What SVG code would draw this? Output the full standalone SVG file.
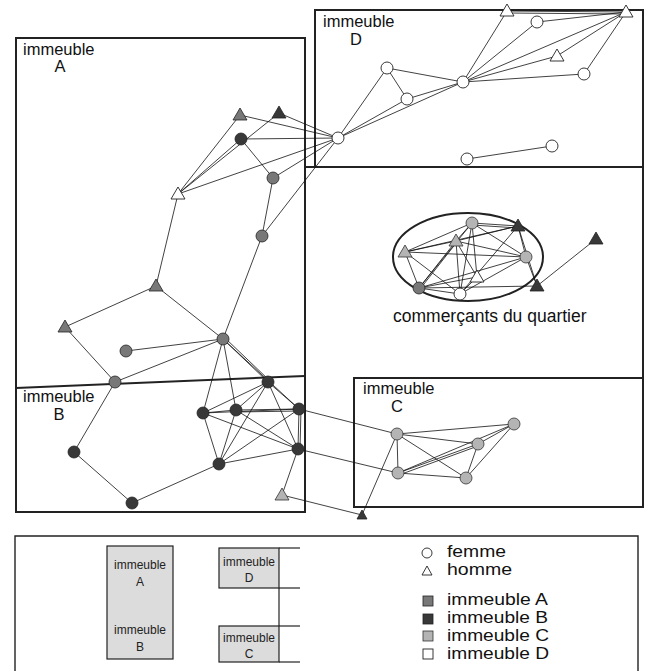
<svg xmlns="http://www.w3.org/2000/svg" xmlns:xlink="http://www.w3.org/1999/xlink" width="649" height="671" viewBox="0 0 649 671">
<style>
  .frame{fill:none;stroke:#222;stroke-width:2}
  .lframe{fill:none;stroke:#222;stroke-width:1.4}
  .edges line{stroke:#111;stroke-width:0.8}
  .lbl{font-family:"Liberation Sans",Arial,sans-serif;font-size:16.5px;fill:#111}
  .com{font-family:"Liberation Sans",Arial,sans-serif;font-size:17.5px;fill:#111}
  .leg{font-family:"Liberation Sans",Arial,sans-serif;font-size:16px;fill:#111}
  .small{font-family:"Liberation Sans",Arial,sans-serif;font-size:12px;fill:#222;text-anchor:middle}
  .mid{text-anchor:middle}
  .A{fill:#787878;stroke:#222;stroke-width:0.8}
  .B{fill:#383838;stroke:#222;stroke-width:0.8}
  .C{fill:#b4b4b4;stroke:#333;stroke-width:0.8}
  .D{fill:#fff;stroke:#222;stroke-width:0.9}
  .lgrect{fill:#dcdcdc;stroke:#222;stroke-width:1.2}
</style>
<defs>
  <path id="tri" d="M0,-7 L7,5 L-7,5 Z"/>
  <path id="stri" d="M0,-5 L5,4 L-5,4 Z"/>
</defs>

<g id="frames">
  <rect class="frame" x="16" y="38" width="289" height="474"/>
  <line class="frame" x1="16" y1="388" x2="305" y2="376"/>
  <rect class="frame" x="315" y="10" width="328" height="157"/>
  <line class="frame" x1="643" y1="167" x2="643" y2="378"/>
  <line class="frame" x1="305" y1="167" x2="315" y2="167"/>
  <rect class="frame" x="354" y="378" width="289" height="129"/>
  <ellipse class="frame" cx="468" cy="257" rx="75" ry="44"/>
</g>

<g id="labels">
  <text class="lbl" x="23" y="55">immeuble</text>
  <text class="lbl mid" x="60" y="72">A</text>
  <text class="lbl" x="23" y="402">immeuble</text>
  <text class="lbl mid" x="59" y="420">B</text>
  <text class="lbl" x="323" y="27">immeuble</text>
  <text class="lbl mid" x="356" y="45">D</text>
  <text class="lbl" x="363" y="394">immeuble</text>
  <text class="lbl mid" x="397" y="412">C</text>
  <text class="com" x="393" y="322">commerçants du quartier</text>
</g>

<g id="connectors" class="edges">
  <line x1="240" y1="115" x2="338" y2="138"/>
  <line x1="279" y1="113" x2="338" y2="138"/>
  <line x1="241" y1="139" x2="338" y2="138"/>
  <line x1="273" y1="178" x2="338" y2="138"/>
  <line x1="262" y1="236" x2="338" y2="138"/>
  <line x1="178" y1="194" x2="338" y2="138"/>
  <line x1="178" y1="194" x2="240" y2="115"/>
  <line x1="178" y1="194" x2="279" y2="113"/>
  <line x1="178" y1="194" x2="241" y2="139"/>
  <line x1="241" y1="139" x2="273" y2="178"/>
  <line x1="273" y1="178" x2="262" y2="236"/>
  <line x1="262" y1="236" x2="223" y2="339"/>
  <line x1="178" y1="194" x2="156" y2="286"/>
  <line x1="156" y1="286" x2="65" y2="327"/>
  <line x1="156" y1="286" x2="223" y2="339"/>
  <line x1="65" y1="327" x2="115" y2="382"/>
  <line x1="126" y1="351" x2="223" y2="339"/>
  <line x1="115" y1="382" x2="223" y2="339"/>
  <line x1="115" y1="382" x2="74" y2="452"/>
  <line x1="74" y1="452" x2="132" y2="503"/>
  <line x1="132" y1="503" x2="219" y2="464"/>
  <line x1="223" y1="339" x2="203" y2="413"/>
  <line x1="223" y1="339" x2="236" y2="410"/>
  <line x1="223" y1="339" x2="268" y2="382"/>
  <line x1="225" y1="338" x2="270" y2="381"/>
  <line x1="223" y1="339" x2="299" y2="409"/>
  <line x1="203" y1="413" x2="236" y2="410"/>
  <line x1="203" y1="413" x2="268" y2="382"/>
  <line x1="203" y1="413" x2="299" y2="409"/>
  <line x1="203" y1="413" x2="298" y2="449"/>
  <line x1="203" y1="413" x2="219" y2="464"/>
  <line x1="236" y1="410" x2="268" y2="382"/>
  <line x1="236" y1="410" x2="299" y2="409"/>
  <line x1="236" y1="412" x2="299" y2="411"/>
  <line x1="236" y1="410" x2="298" y2="449"/>
  <line x1="236" y1="410" x2="219" y2="464"/>
  <line x1="268" y1="382" x2="299" y2="409"/>
  <line x1="268" y1="382" x2="298" y2="449"/>
  <line x1="268" y1="382" x2="219" y2="464"/>
  <line x1="299" y1="409" x2="298" y2="449"/>
  <line x1="301" y1="409" x2="300" y2="449"/>
  <line x1="299" y1="409" x2="219" y2="464"/>
  <line x1="298" y1="449" x2="219" y2="464"/>
  <line x1="299" y1="409" x2="397" y2="434"/>
  <line x1="298" y1="449" x2="398" y2="473"/>
  <line x1="298" y1="449" x2="282" y2="495"/>
  <line x1="282" y1="495" x2="362" y2="515"/>
  <line x1="362" y1="515" x2="397" y2="434"/>
  <line x1="397" y1="434" x2="514" y2="424"/>
  <line x1="397" y1="434" x2="478" y2="444"/>
  <line x1="397" y1="434" x2="398" y2="473"/>
  <line x1="397" y1="434" x2="466" y2="478"/>
  <line x1="514" y1="424" x2="478" y2="444"/>
  <line x1="514" y1="424" x2="398" y2="473"/>
  <line x1="514" y1="424" x2="466" y2="478"/>
  <line x1="478" y1="444" x2="398" y2="473"/>
  <line x1="478" y1="446" x2="399" y2="475"/>
  <line x1="478" y1="444" x2="466" y2="478"/>
  <line x1="398" y1="473" x2="466" y2="478"/>
  <line x1="338" y1="138" x2="387" y2="68"/>
  <line x1="338" y1="138" x2="407" y2="99"/>
  <line x1="338" y1="138" x2="463" y2="82"/>
  <line x1="387" y1="68" x2="407" y2="99"/>
  <line x1="387" y1="68" x2="463" y2="82"/>
  <line x1="407" y1="99" x2="463" y2="82"/>
  <line x1="463" y1="82" x2="507" y2="11"/>
  <line x1="463" y1="82" x2="537" y2="22"/>
  <line x1="463" y1="82" x2="626" y2="12"/>
  <line x1="463" y1="82" x2="557" y2="56"/>
  <line x1="463" y1="82" x2="584" y2="74"/>
  <line x1="507" y1="11" x2="626" y2="12"/>
  <line x1="507" y1="13" x2="626" y2="14"/>
  <line x1="537" y1="22" x2="626" y2="12"/>
  <line x1="557" y1="56" x2="626" y2="12"/>
  <line x1="584" y1="74" x2="626" y2="12"/>
  <line x1="467" y1="159" x2="552" y2="146"/>
  <line x1="472" y1="223" x2="518" y2="226"/>
  <line x1="472" y1="225" x2="518" y2="228"/>
  <line x1="472" y1="223" x2="456" y2="241"/>
  <line x1="472" y1="223" x2="405" y2="252"/>
  <line x1="472" y1="223" x2="526" y2="257"/>
  <line x1="472" y1="223" x2="419" y2="288"/>
  <line x1="472" y1="223" x2="460" y2="294"/>
  <line x1="472" y1="223" x2="477" y2="277"/>
  <line x1="518" y1="226" x2="456" y2="241"/>
  <line x1="518" y1="226" x2="405" y2="252"/>
  <line x1="518" y1="226" x2="526" y2="257"/>
  <line x1="518" y1="226" x2="460" y2="294"/>
  <line x1="518" y1="226" x2="537" y2="286"/>
  <line x1="456" y1="241" x2="405" y2="252"/>
  <line x1="456" y1="241" x2="526" y2="257"/>
  <line x1="456" y1="241" x2="419" y2="288"/>
  <line x1="457" y1="242" x2="420" y2="289"/>
  <line x1="456" y1="241" x2="460" y2="294"/>
  <line x1="456" y1="241" x2="477" y2="277"/>
  <line x1="405" y1="252" x2="526" y2="257"/>
  <line x1="405" y1="252" x2="419" y2="288"/>
  <line x1="405" y1="252" x2="460" y2="294"/>
  <line x1="526" y1="257" x2="419" y2="288"/>
  <line x1="526" y1="257" x2="460" y2="294"/>
  <line x1="526" y1="257" x2="537" y2="286"/>
  <line x1="419" y1="288" x2="460" y2="294"/>
  <line x1="419" y1="288" x2="537" y2="286"/>
  <line x1="419" y1="288" x2="477" y2="277"/>
  <line x1="460" y1="294" x2="477" y2="277"/>
  <line x1="537" y1="286" x2="596" y2="239"/>
</g>

<g id="nodes">
  <use id="a1" xlink:href="#tri" href="#tri" x="240" y="115" class="A"/>
  <use id="b0" xlink:href="#tri" href="#tri" x="279" y="113" class="B"/>
  <circle id="b1" cx="241" cy="139" r="6" class="B"/>
  <circle id="a2" cx="273" cy="178" r="6" class="A"/>
  <use id="d0" xlink:href="#tri" href="#tri" x="178" y="194" class="D"/>
  <circle id="a3" cx="262" cy="236" r="6" class="A"/>
  <use id="a4" xlink:href="#tri" href="#tri" x="156" y="286" class="A"/>
  <use id="a5" xlink:href="#tri" href="#tri" x="65" y="327" class="A"/>
  <circle id="a6" cx="126" cy="351" r="6" class="A"/>
  <circle id="a7" cx="223" cy="339" r="6" class="A"/>
  <circle id="a8" cx="115" cy="382" r="6" class="A"/>
  <circle id="b2" cx="74" cy="452" r="6" class="B"/>
  <circle id="b3" cx="132" cy="503" r="6" class="B"/>
  <circle id="b4" cx="203" cy="413" r="6" class="B"/>
  <circle id="b5" cx="236" cy="410" r="6" class="B"/>
  <circle id="b6" cx="268" cy="382" r="6" class="B"/>
  <circle id="b7" cx="299" cy="409" r="6" class="B"/>
  <circle id="b8" cx="298" cy="449" r="6" class="B"/>
  <circle id="b9" cx="219" cy="464" r="6" class="B"/>
  <use id="c0" xlink:href="#tri" href="#tri" x="282" y="495" class="C"/>
  <use id="b10" xlink:href="#stri" href="#stri" x="362" y="515" class="B"/>
  <circle id="c1" cx="397" cy="434" r="6" class="C"/>
  <circle id="c2" cx="514" cy="424" r="6" class="C"/>
  <circle id="c3" cx="478" cy="444" r="6" class="C"/>
  <circle id="c4" cx="398" cy="473" r="6" class="C"/>
  <circle id="c5" cx="466" cy="478" r="6" class="C"/>
  <circle id="d1" cx="338" cy="138" r="6" class="D"/>
  <circle id="d2" cx="387" cy="68" r="6" class="D"/>
  <circle id="d3" cx="407" cy="99" r="6" class="D"/>
  <circle id="d4" cx="463" cy="82" r="6" class="D"/>
  <use id="d5" xlink:href="#tri" href="#tri" x="507" y="11" class="D"/>
  <circle id="d6" cx="537" cy="22" r="6" class="D"/>
  <use id="d7" xlink:href="#tri" href="#tri" x="626" y="12" class="D"/>
  <use id="d8" xlink:href="#tri" href="#tri" x="557" y="56" class="D"/>
  <circle id="d9" cx="584" cy="74" r="6" class="D"/>
  <circle id="d10" cx="467" cy="159" r="6" class="D"/>
  <circle id="d11" cx="552" cy="146" r="6" class="D"/>
  <circle id="k1" cx="472" cy="223" r="6" class="C"/>
  <use id="k2" xlink:href="#tri" href="#tri" x="518" y="226" class="B"/>
  <use id="k3" xlink:href="#tri" href="#tri" x="456" y="241" class="C"/>
  <use id="k4" xlink:href="#tri" href="#tri" x="405" y="252" class="C"/>
  <circle id="k5" cx="526" cy="257" r="6" class="C"/>
  <use id="k9" xlink:href="#tri" href="#tri" x="477" y="277" class="D"/>
  <circle id="k6" cx="419" cy="288" r="6" class="A"/>
  <circle id="k7" cx="460" cy="294" r="6" class="D"/>
  <use id="k8" xlink:href="#tri" href="#tri" x="537" y="286" class="B"/>
  <use id="k10" xlink:href="#tri" href="#tri" x="596" y="239" class="B"/>
</g>

<g id="legend">
  <polyline class="lframe" points="15,671 15,536 638,536 638,671"/>
  <rect class="lgrect" x="107" y="546" width="66" height="113"/>
  <text class="small" x="140" y="569">immeuble</text>
  <text class="small" x="140" y="586">A</text>
  <text class="small" x="140" y="634">immeuble</text>
  <text class="small" x="140" y="651">B</text>
  <rect class="lgrect" x="219" y="548" width="60" height="40"/>
  <text class="small" x="249" y="566">immeuble</text>
  <text class="small" x="249" y="582">D</text>
  <rect class="lgrect" x="219" y="626" width="60" height="36"/>
  <text class="small" x="249" y="642">immeuble</text>
  <text class="small" x="249" y="658">C</text>
  <g stroke="#222" stroke-width="1.2">
    <line x1="279" y1="548" x2="300" y2="548"/>
    <line x1="279" y1="588" x2="300" y2="588"/>
    <line x1="279" y1="588" x2="279" y2="626"/>
    <line x1="279" y1="626" x2="300" y2="626"/>
    <line x1="279" y1="662" x2="300" y2="662"/>
  </g>
  <circle cx="427" cy="553" r="5" fill="#fff" stroke="#222" stroke-width="0.9"/>
  <text class="leg" x="447" y="557" textLength="59" lengthAdjust="spacingAndGlyphs">femme</text>
  <path d="M427,566 L432,575 L422,575 Z" fill="#fff" stroke="#222" stroke-width="0.9"/>
  <text class="leg" x="447" y="575" textLength="65" lengthAdjust="spacingAndGlyphs">homme</text>
  <rect x="423" y="596" width="10" height="10" class="A"/>
  <text class="leg" x="447" y="605" textLength="101" lengthAdjust="spacingAndGlyphs">immeuble A</text>
  <rect x="423" y="614" width="10" height="10" class="B"/>
  <text class="leg" x="447" y="623" textLength="101" lengthAdjust="spacingAndGlyphs">immeuble B</text>
  <rect x="423" y="631" width="10" height="10" class="C"/>
  <text class="leg" x="447" y="641" textLength="102" lengthAdjust="spacingAndGlyphs">immeuble C</text>
  <rect x="423" y="649" width="10" height="10" class="D"/>
  <text class="leg" x="447" y="659" textLength="102" lengthAdjust="spacingAndGlyphs">immeuble D</text>
</g>
</svg>
